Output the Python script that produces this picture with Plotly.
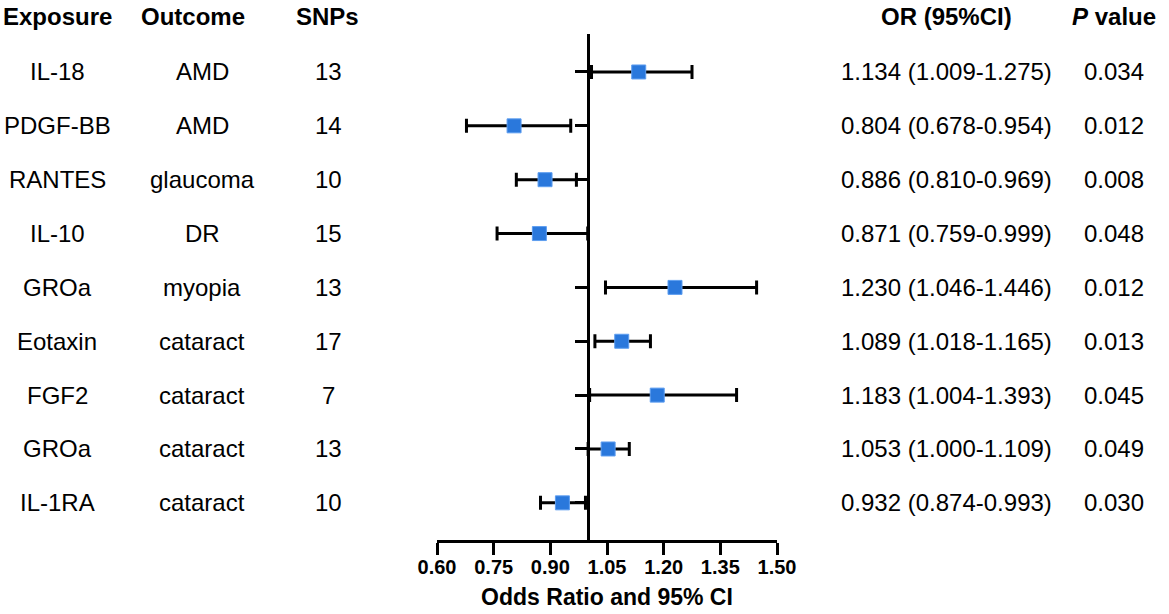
import plotly.graph_objects as go

exposure = ["IL-18", "PDGF-BB", "RANTES", "IL-10", "GROa", "Eotaxin", "FGF2", "GROa", "IL-1RA"]
outcome = ["AMD", "AMD", "glaucoma", "DR", "myopia", "cataract", "cataract", "cataract", "cataract"]
snps = [13, 14, 10, 15, 13, 17, 7, 13, 10]
odds = [1.134, 0.804, 0.886, 0.871, 1.230, 1.089, 1.183, 1.053, 0.932]
lower = [1.009, 0.678, 0.810, 0.759, 1.046, 1.018, 1.004, 1.000, 0.874]
upper = [1.275, 0.954, 0.969, 0.999, 1.446, 1.165, 1.393, 1.109, 0.993]
pvals = ["0.034", "0.012", "0.008", "0.048", "0.012", "0.013", "0.045", "0.049", "0.030"]
xticks = [0.60, 0.75, 0.90, 1.05, 1.20, 1.35, 1.50]

W, H = 1169, 614
L, R, T, B = 437, 392, 34, 74
FONT = "Liberation Sans, Arial, sans-serif"

rows = list(range(1, len(exposure) + 1))

fig = go.Figure()
fig.add_trace(go.Scatter(
    x=odds, y=rows, mode="markers",
    marker=dict(symbol="square", size=14, color="#2a78dc",
                line=dict(color="#5e9ef0", width=1)),
    error_x=dict(type="data", symmetric=False,
                 array=[u - o for u, o in zip(upper, odds)],
                 arrayminus=[o - l for o, l in zip(odds, lower)],
                 color="black", thickness=3, width=7),
    showlegend=False, hoverinfo="skip",
))

xmin, xmax = 0.6, 1.5
ref = 1.0

def px_to_paper(px):
    return (px - L) / (W - L - R)

ann = []
cols = [(57, exposure), (202, outcome), (328, [str(s) for s in snps]),
        (946, ["%.3f (%.3f-%.3f)" % (o, l, u) for o, l, u in zip(odds, lower, upper)]),
        (1114, pvals)]
for cx, vals in cols:
    for r, v in zip(rows, vals):
        ann.append(dict(x=px_to_paper(cx), xref="paper", y=r, yref="y", text=v,
                        showarrow=False, xanchor="center", yanchor="middle",
                        font=dict(family=FONT, size=24, color="black")))

headers = [(57, "<b>Exposure</b>"), (193, "<b>Outcome</b>"), (327, "<b>SNPs</b>"),
           (946, "<b>OR (95%CI)</b>"), (1114, "<b><i>P</i> value</b>")]
hy = 1 + (T - 17) / (H - T - B)
for cx, t in headers:
    ann.append(dict(x=px_to_paper(cx), xref="paper", y=hy, yref="paper", text=t,
                    showarrow=False, xanchor="center", yanchor="middle",
                    font=dict(family=FONT, size=24, color="black")))

fig.update_layout(
    width=W, height=H,
    margin=dict(l=L, r=R, t=T, b=B, pad=0, autoexpand=False),
    plot_bgcolor="white", paper_bgcolor="white",
    annotations=ann,
    xaxis=dict(range=[xmin, xmax], tickvals=xticks, ticktext=["%.2f" % v for v in xticks],
               showgrid=False, zeroline=False, showline=True, linecolor="black",
               linewidth=3, ticks="outside", ticklen=12, tickwidth=3, tickcolor="black",
               ticklabelstandoff=-5,
               tickfont=dict(family=FONT, size=20, color="black", weight="bold"),
               title=dict(text="Odds Ratio and 95% CI", standoff=12,
                          font=dict(family=FONT, size=23, color="black", weight="bold")),
               automargin=False, fixedrange=True),
    yaxis=dict(range=[9.69, 0.295], tickvals=rows, showticklabels=False,
               anchor="free", position=(ref - xmin) / (xmax - xmin),
               showgrid=False, zeroline=False, showline=True, linecolor="black",
               linewidth=3, ticks="outside", ticklen=12, tickwidth=3, tickcolor="black",
               automargin=False, fixedrange=True),
)

fig.write_html("out.html", config={"displayModeBar": False},
               post_script="document.body.style.margin='0';")
